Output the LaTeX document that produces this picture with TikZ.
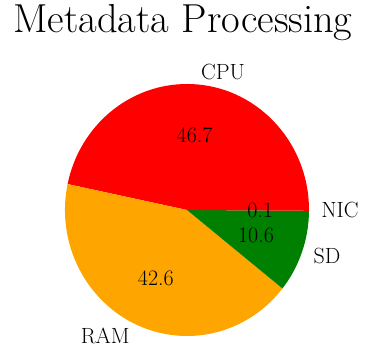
\documentclass[tikz,border=0pt]{standalone}
\usetikzlibrary{calc}
\definecolor{cpucol}{RGB}{255,0,0}
\definecolor{ramcol}{RGB}{255,165,0}
\definecolor{sdcol}{RGB}{0,128,0}
\begin{document}
\begin{tikzpicture}[x=1pt,y=1pt,
  lab/.style={inner sep=0pt, font=\fontsize{22}{24}\selectfont},
  wedge/.style={draw=none}]
\useasboundingbox (0,0) rectangle (366,352);
\coordinate (c) at (187,142);
% wedges
\fill[cpucol,wedge] (c) -- ($(c)+(0:122pt and 126pt)$) arc[start angle=0,end angle=168.12,x radius=122pt,y radius=126pt] -- cycle;
\fill[ramcol,wedge] (c) -- ($(c)+(168.12:122pt and 126pt)$) arc[start angle=168.12,end angle=321.48,x radius=122pt,y radius=126pt] -- cycle;
\fill[sdcol,wedge] (c) -- ($(c)+(321.48:122pt and 126pt)$) arc[start angle=321.48,end angle=359.64,x radius=122pt,y radius=126pt] -- cycle;
\fill[cpucol,wedge] (c) -- ($(c)+(359.64:122pt and 126pt)$) arc[start angle=359.64,end angle=360,x radius=122pt,y radius=126pt] -- cycle;
% title
\node[inner sep=0pt, anchor=base, font=\fontsize{40.5}{44}\selectfont] (title) at (183,319) {Metadata Processing};
% outer labels
\node[lab, anchor=west] (lcpu) at ($(c)+(84.06:134.2pt and 138.6pt)$) {CPU};
\node[lab, anchor=east] (lram) at ($(c)+(244.80:134.2pt and 138.6pt)$) {RAM};
\node[lab, anchor=west] (lsd) at ($(c)+(340.56:134.2pt and 138.6pt)$) {SD};
\node[lab, anchor=west] (lnic) at ($(c)+(359.82:134.2pt and 138.6pt)$) {NIC};
% percentages
\node[lab] (pcpu) at ($(c)+(84.06:73.2pt and 75.6pt)$) {46.7};
\node[lab] (pram) at ($(c)+(244.80:73.2pt and 75.6pt)$) {42.6};
\node[lab] (psd) at ($(c)+(340.56:73.2pt and 75.6pt)$) {10.6};
\node[lab] (pnic) at ($(c)+(359.82:73.2pt and 75.6pt)$) {0.1};
\end{tikzpicture}
\end{document}
